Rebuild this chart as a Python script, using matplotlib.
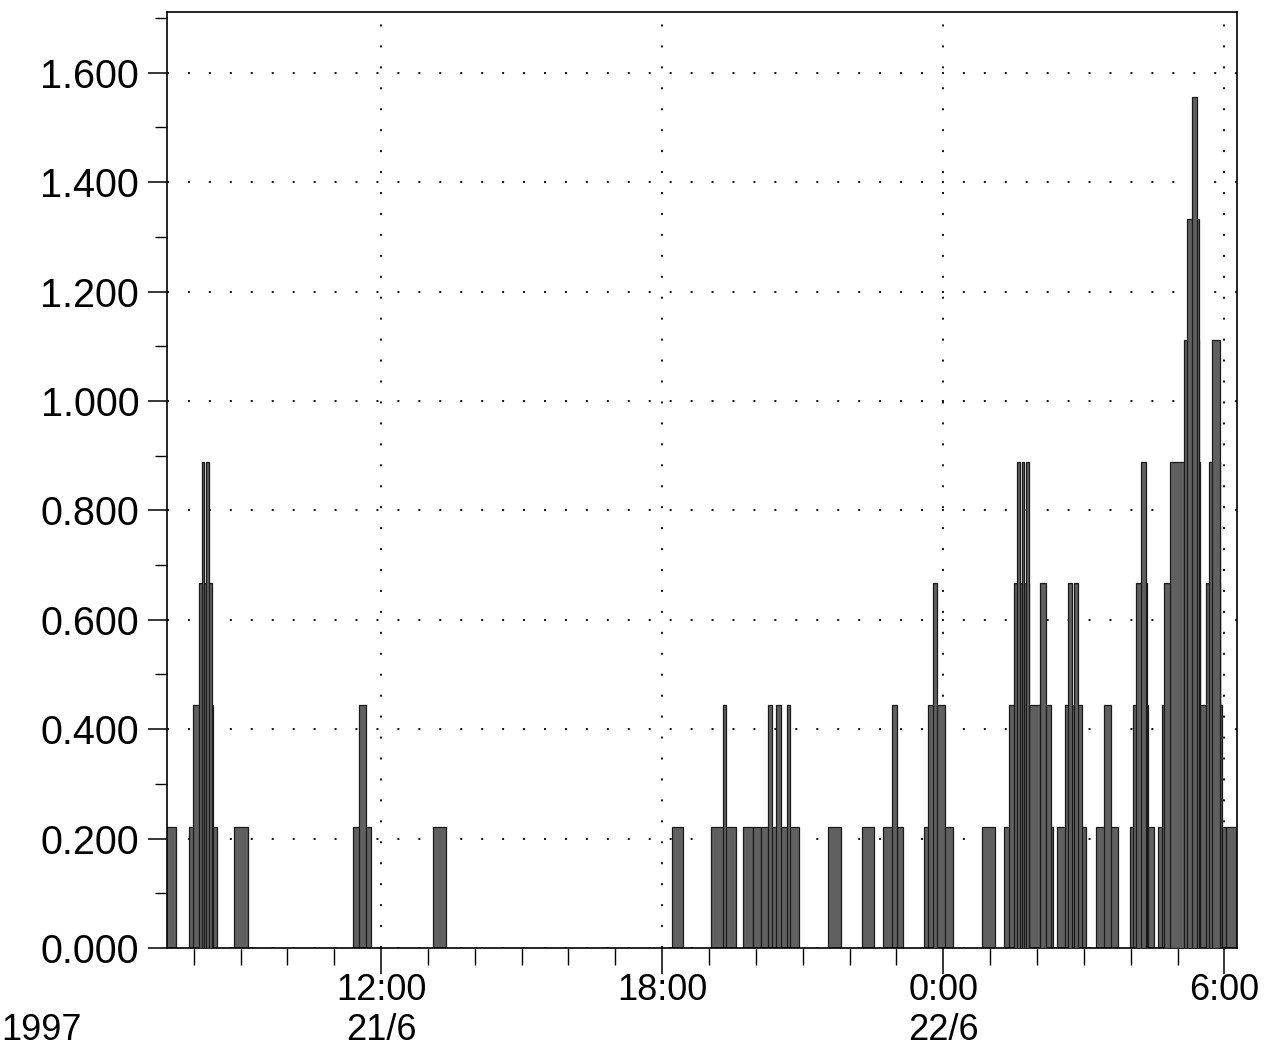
import matplotlib
matplotlib.use('Agg')
import matplotlib.pyplot as plt
from matplotlib.ticker import MultipleLocator, FixedLocator, FormatStrFormatter

# rain bars: start / end in hours counted from 0:00 on 21/6/1997, value per bar
bar_start = [7.38, 7.89, 7.99, 8.12, 8.17, 8.26, 8.87, 11.40, 11.52, 13.11,
             18.20, 19.05, 19.35, 19.30, 19.72, 19.93, 20.12, 20.29, 20.49, 20.70,
             20.25, 20.44, 20.66, 21.54, 22.26, 22.71, 23.01, 22.90, 23.59, 23.67,
             23.78, 24.83, 25.30, 25.83, 25.41, 25.83, 25.51, 26.07, 25.58, 25.68,
             25.77, 26.43, 26.60, 26.67, 26.80, 27.27, 27.44, 27.99, 28.06, 28.12,
             28.23, 28.59, 28.98, 29.60, 30.03, 28.66, 28.72, 29.60, 28.83, 29.68,
             29.13, 29.73, 29.21, 29.30]
bar_end = [7.63, 8.49, 8.42, 8.40, 8.23, 8.32, 9.15, 11.78, 11.67, 13.39,
           18.45, 19.35, 19.57, 19.36, 19.93, 20.12, 20.29, 20.49, 20.70, 20.91,
           20.34, 20.53, 20.72, 21.81, 22.52, 23.01, 23.14, 23.01, 24.21, 24.04,
           23.87, 25.11, 25.83, 26.35, 25.83, 26.30, 25.83, 26.20, 25.64, 25.73,
           25.83, 27.05, 26.97, 26.75, 26.88, 27.72, 27.57, 28.49, 28.38, 28.34,
           28.32, 28.98, 29.60, 30.03, 30.31, 29.94, 29.49, 29.90, 29.47, 29.90,
           29.45, 29.90, 29.45, 29.41]
bar_value = [0.222, 0.222, 0.444, 0.667, 0.889, 0.889, 0.222, 0.222, 0.444, 0.222,
             0.222, 0.222, 0.222, 0.444, 0.222, 0.222, 0.222, 0.222, 0.222, 0.222,
             0.444, 0.444, 0.444, 0.222, 0.222, 0.222, 0.222, 0.444, 0.222, 0.444,
             0.667, 0.222, 0.222, 0.222, 0.444, 0.444, 0.667, 0.667, 0.889, 0.889,
             0.889, 0.222, 0.444, 0.667, 0.667, 0.222, 0.444, 0.222, 0.444, 0.667,
             0.889, 0.222, 0.222, 0.222, 0.222, 0.444, 0.667, 0.667, 0.889, 0.889,
             1.111, 1.111, 1.333, 1.556]

major_hours = [12, 18, 24, 30]
time_labels = ['12:00', '18:00', '0:00', '6:00']
date_labels = ['21/6', '', '22/6', '']
year_label = '1997'

plt.rcParams['font.family'] = ['Liberation Sans', 'DejaVu Sans']

fig = plt.figure(figsize=(12.68, 10.52), dpi=100)
ax = fig.add_axes([167 / 1268, 1 - 948 / 1052, (1237 - 167) / 1268, (948 - 12) / 1052])

# lowest bars first so the narrower, taller ones sit on top
order = sorted(range(len(bar_value)), key=lambda i: bar_value[i])
for i in order:
    ax.bar(bar_start[i], bar_value[i], width=bar_end[i] - bar_start[i], align='edge',
           color='#606060', edgecolor='#1a1a1a', linewidth=0.9,
           zorder=2 + bar_value[i])

ax.set_xlim(7.43, 30.27)
ax.set_ylim(0, 1.711)

ax.yaxis.set_major_locator(MultipleLocator(0.2))
ax.yaxis.set_minor_locator(MultipleLocator(0.1))
ax.yaxis.set_major_formatter(FormatStrFormatter('%.3f'))
ax.xaxis.set_major_locator(FixedLocator(major_hours))
ax.xaxis.set_minor_locator(MultipleLocator(1))
ax.set_xticklabels([])

ax.tick_params(axis='y', which='major', direction='out', length=14, width=1.1,
               pad=6, labelsize=28.5)
ax.tick_params(axis='y', which='minor', direction='out', length=9, width=1.0)
ax.tick_params(axis='x', which='major', direction='out', length=19, width=1.1)
ax.tick_params(axis='x', which='minor', direction='out', length=12, width=1.0)

ax.set_axisbelow(True)
ax.grid(True, which='major', color='black', linewidth=1.3, linestyle=(0, (1.1, 10.5)))

for side in ax.spines.values():
    side.set_linewidth(1.2)

trans = ax.get_xaxis_transform()
for h, t, d in zip(major_hours, time_labels, date_labels):
    ax.text(h, -(990 - 948) / 936, t, transform=trans, ha='center', va='center',
            fontsize=26)
    if d:
        ax.text(h, -(1031 - 948) / 936, d, transform=trans, ha='center', va='center',
                fontsize=26)
fig.text(1 / 1268, 1 - 1031 / 1052, year_label, ha='left', va='center', fontsize=26)

fig.savefig('out.png', dpi=100)
